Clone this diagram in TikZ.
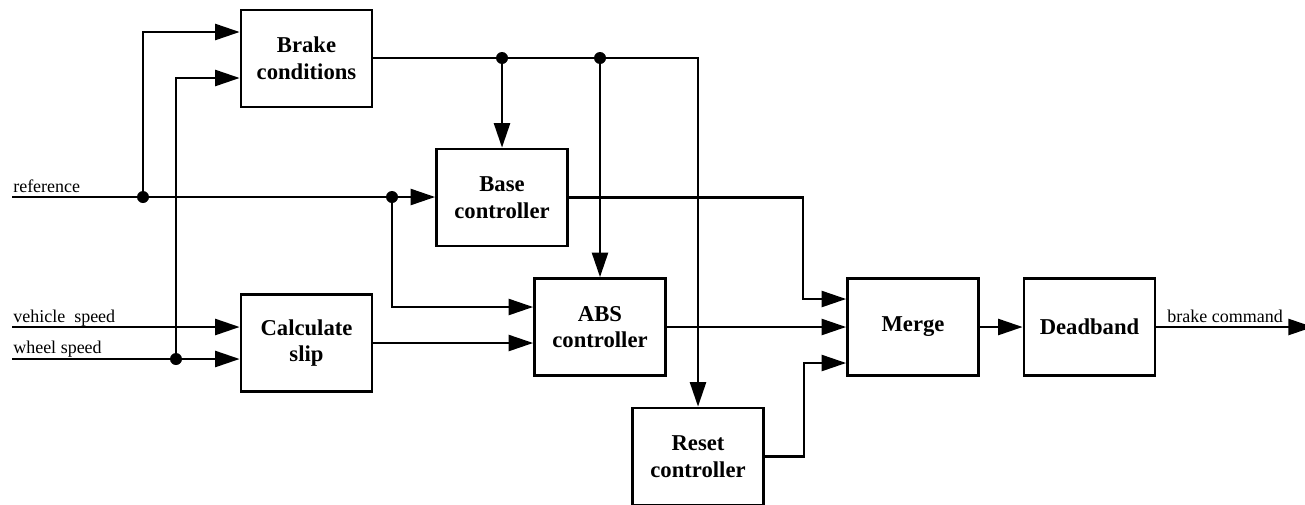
\documentclass[tikz,border=0pt]{standalone}
\usepackage{fontspec}
\setmainfont{Liberation Serif}
\usetikzlibrary{arrows.meta}
\begin{document}
\begin{tikzpicture}[x=0.75pt,y=-0.75pt,
  blk/.style={draw, line width=2pt, minimum width=98.25pt, minimum height=72.75pt,
    inner sep=0pt, align=center, font=\bfseries\fontsize{17}{20}\selectfont},
  wire/.style={line width=2pt},
  arr/.style={wire, -{Triangle[length=18.5pt,width=12pt]}},
  dot/.style={circle, fill, inner sep=0pt, minimum size=9pt},
  lab/.style={font=\fontsize{13.5}{16}\selectfont, anchor=base west, inner sep=0pt}]
\useasboundingbox (0,0) rectangle (1305,504);
\clip (0,0) rectangle (1305,504);

% blocks
\node[blk] (brake) at (306.5,58.5) {Brake\\conditions};
\node[blk] (calc)  at (306.5,343)  {Calculate\\slip};
\node[blk] (base)  at (502,197.5)  {Base\\controller};
\node[blk] (abs)   at (600,327)    {ABS\\controller};
\node[blk] (reset) at (698,456.5)  {Reset\\controller};
\node[blk] (merge) at (913,327)    {Merge};
\node[blk] (dead)  at (1089.5,327) {Deadband};

% signal ends
\coordinate (refin) at (12,197);
\coordinate (vin)   at (12,327);
\coordinate (win)   at (12,359);
\coordinate (out)   at (1313,327);

% branch points
\node[dot] (j1) at (143,197) {};
\node[dot] (j2) at (392,197) {};
\node[dot] (j3) at (176,359) {};
\node[dot] (j4) at (502,58)  {};
\node[dot] (j5) at (600,58)  {};

% input labels
\node[lab] (lref) at (13,192)   {reference};
\node[lab] (lveh) at (13,322)   {vehicle\ \ speed};
\node[lab] (lwhl) at (13,353.5) {wheel speed};
\node[lab] (lout) at (1167,322) {brake command};

% reference signal
\draw[wire] (refin) -- (j1);
\draw[wire] (j1) -- (j2);
\draw[arr] (j2) -- (j2 -| base.west);
\draw[arr] (j1) |- (brake.west |- 0,32);
\draw[arr] (j2) |- (abs.west |- 0,307);

% speed signals
\draw[wire] (win) -- (j3);
\draw[arr] (j3) -- (j3 -| calc.west);
\draw[arr] (j3) |- (brake.west |- 0,78);
\draw[arr] (vin) -- (vin -| calc.west);
\draw[arr] (calc.east) -- (calc.east -| abs.west);

% brake conditions distribution
\draw[wire] (brake.east |- j4) -- (j4);
\draw[wire] (j4) -- (j5);
\draw[arr] (j4) -- (base.north);
\draw[arr] (j5) -- (abs.north);
\draw[arr] (j5) -| (reset.north);

% controller outputs into the merge block
\draw[arr] (base.east) -- ++(234,0) |- (merge.west |- 0,299);
\draw[arr] (abs.east) -- (merge.west);
\draw[arr] (reset.east) -- ++(39,0) |- (merge.west |- 0,363);

% output chain
\draw[arr] (merge) -- (dead);
\draw[arr] (dead.east) -- (out);
\end{tikzpicture}
\end{document}
